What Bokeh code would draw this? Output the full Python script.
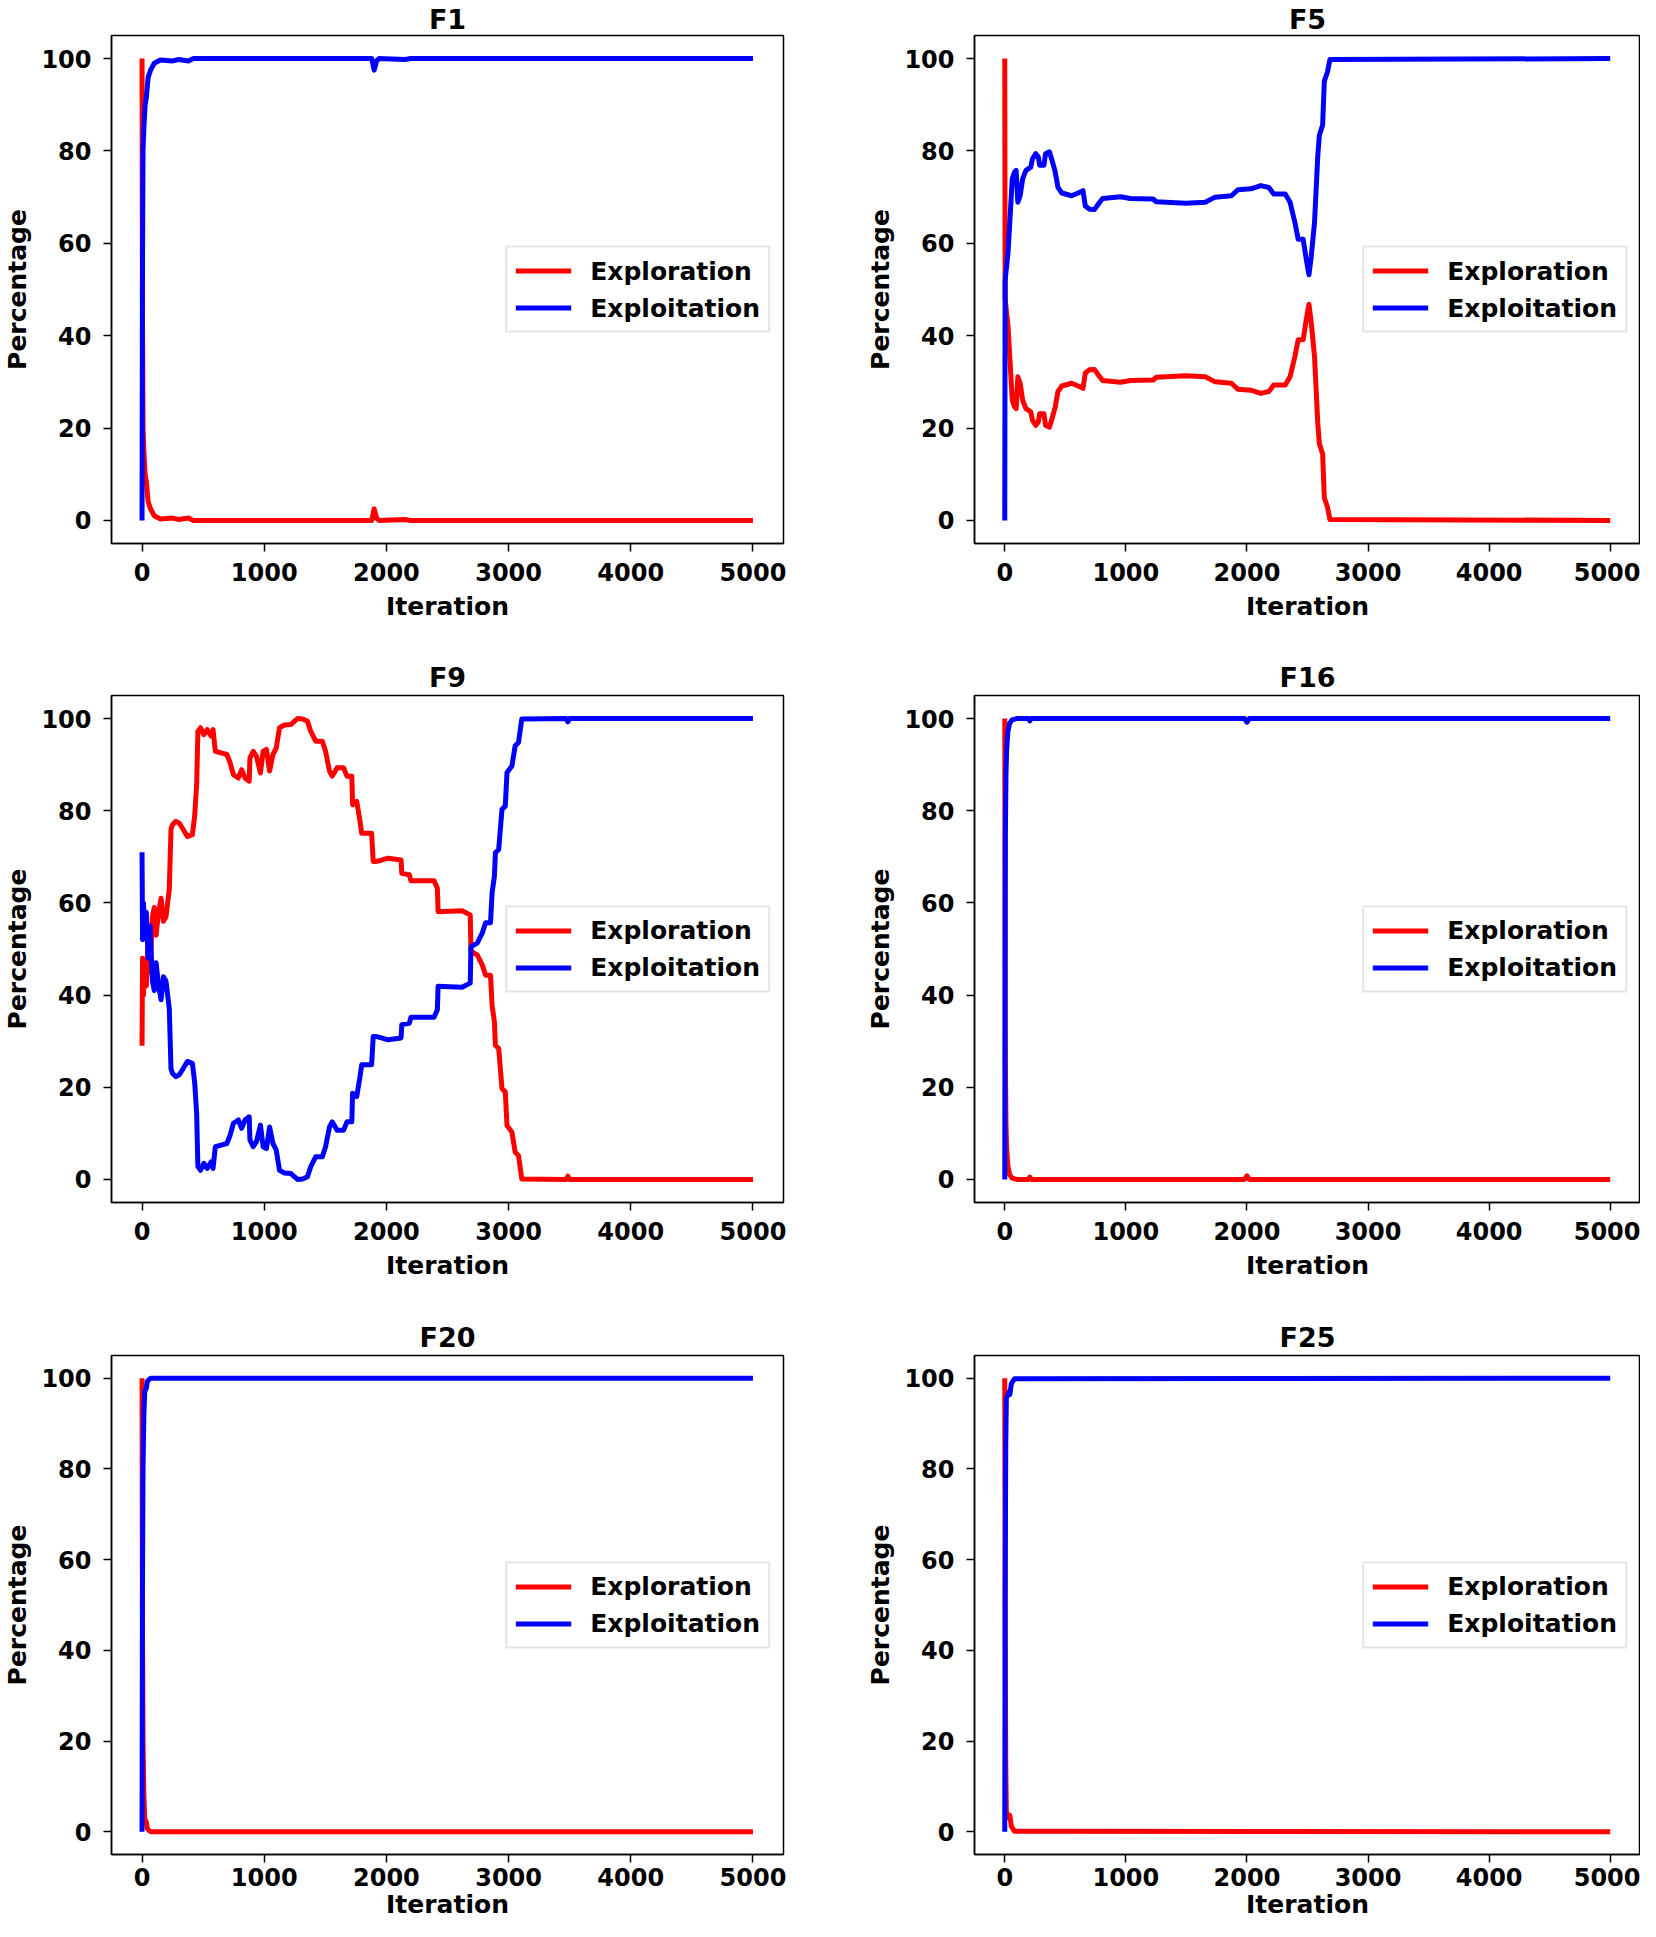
from bokeh.plotting import figure
from bokeh.layouts import column, row
from bokeh.models import Range1d, FixedTicker
from bokeh.embed import file_html
from bokeh.resources import INLINE

# ---------------- data ----------------
x_ticks = [0, 1000, 2000, 3000, 4000, 5000]
y_ticks = [0, 20, 40, 60, 80, 100]
series_names = ["Exploration", "Exploitation"]

f1_iter = [0, 3, 8, 15, 25, 35, 50, 70, 100, 150, 250, 300, 380, 420, 1880, 1900, 1920, 1940, 2150, 2200, 5000]
f1_explore = [100, 50, 20, 15, 10, 8.5, 4, 2.5, 1, 0.3, 0.5, 0.2, 0.5, 0, 0, 2.5, 0.5, 0, 0.2, 0, 0]
f1_exploit = [0, 50, 80, 85, 90, 91.5, 96, 97.5, 99, 99.7, 99.5, 99.8, 99.5, 100, 100, 97.5, 99.5, 100, 99.8, 100, 100]

f5_iter = [0, 3, 27, 46, 62, 81, 94, 108, 127, 148,
           175, 215, 229, 256, 277, 288, 323, 337, 369, 390,
           417, 439, 471, 552, 606, 646, 665, 700, 740, 773,
           808, 956, 1037, 1225, 1252, 1333, 1494, 1656, 1737, 1872,
           1925, 2033, 2114, 2181, 2221, 2316, 2356, 2396, 2423, 2464,
           2490, 2512, 2531, 2558, 2585, 2598, 2625, 2639, 2666, 2685,
           5000]
f5_exploit = [0, 52, 58, 66.7, 74, 75.4, 75.8, 68.9, 70.3, 74,
              75.8, 76.5, 78.3, 79.4, 78.7, 76.9, 76.9, 79.4, 79.8, 78,
              75.4, 72.1, 70.9, 70.3, 70.9, 71.4, 68.1, 67.4, 67.3, 68.5,
              69.7, 70.1, 69.7, 69.6, 69, 68.9, 68.7, 68.9, 70, 70.3,
              71.6, 71.8, 72.5, 72.1, 70.7, 70.7, 68.9, 64.5, 60.9, 60.9,
              56.5, 53.2, 57.2, 64.5, 79, 83.4, 85.6, 95.1, 97.2, 99.8,
              100]
f5_explore = [100, 48, 42, 33.3, 26, 24.6, 24.2, 31.1, 29.7, 26,
              24.2, 23.5, 21.7, 20.6, 21.3, 23.1, 23.1, 20.6, 20.2, 22,
              24.6, 27.9, 29.1, 29.7, 29.1, 28.6, 31.9, 32.6, 32.7, 31.5,
              30.3, 29.9, 30.3, 30.4, 31, 31.1, 31.3, 31.1, 30, 29.7,
              28.4, 28.2, 27.5, 27.9, 29.3, 29.3, 31.1, 35.5, 39.1, 39.1,
              43.5, 46.8, 42.8, 35.5, 21, 16.6, 14.4, 4.9, 2.8, 0.2,
              0]

f9_iter = [0, 4, 12, 22, 35, 50, 65, 85, 100, 115,
           135, 156, 175, 196, 223, 237, 250, 277, 304, 331,
           371, 412, 431, 447, 457, 479, 506, 533, 565, 581,
           600, 654, 694, 721, 748, 788, 815, 843, 877, 883,
           910, 937, 969, 991, 1018, 1044, 1071, 1098, 1125, 1166,
           1219, 1246, 1273, 1314, 1354, 1381, 1421, 1475, 1502, 1534,
           1556, 1596, 1650, 1677, 1717, 1723, 1757, 1784, 1798, 1879,
           1892, 1919, 1960, 2013, 2120, 2126, 2188, 2201, 2390, 2417,
           2423, 2619, 2686, 2692, 2744, 2785, 2812, 2852, 2865, 2884,
           2892, 2919, 2946, 2973, 2987, 3027, 3054, 3081, 3108, 3470,
           3485, 3500, 5000]
f9_explore = [29, 48, 40, 47, 42, 52, 45, 57, 59, 53,
              58, 61, 56, 57, 63, 76, 77, 77.7, 77.3, 76.2,
              74.4, 74.8, 79, 85.7, 97.2, 98, 96.5, 97.6, 96.2, 97.6,
              92.9, 92.5, 92.2, 90.4, 87.8, 87.1, 88.9, 87.1, 86.4, 91.4,
              92.9, 91.8, 88.2, 92.9, 93.3, 88.6, 92.2, 93.6, 98, 98.6,
              98.7, 99.4, 100, 99.9, 99.4, 97.2, 95.1, 95.1, 92.9, 88.6,
              87.5, 89.3, 89.3, 87.5, 87.5, 81.3, 82, 77.7, 75.1, 75.1,
              69, 69, 69.3, 69.7, 69.3, 66.4, 66.1, 64.8, 64.8, 63.2,
              58.1, 58.3, 57.4, 49.5, 48.7, 46.5, 44.3, 44.3, 37.8, 34.2,
              29.1, 28.4, 19.7, 19, 11.7, 10.3, 5.9, 5.2, 0.1, 0,
              0.7, 0, 0]
f9_exploit = [71, 52, 60, 53, 58, 48, 55, 43, 41, 47,
              42, 39, 44, 43, 37, 24, 23, 22.3, 22.7, 23.8,
              25.6, 25.2, 21, 14.3, 2.8, 2, 3.5, 2.4, 3.8, 2.4,
              7.1, 7.5, 7.8, 9.6, 12.2, 12.9, 11.1, 12.9, 13.6, 8.6,
              7.1, 8.2, 11.8, 7.1, 6.7, 11.4, 7.8, 6.4, 2, 1.4,
              1.3, 0.6, 0, 0.1, 0.6, 2.8, 4.9, 4.9, 7.1, 11.4,
              12.5, 10.7, 10.7, 12.5, 12.5, 18.7, 18, 22.3, 24.9, 24.9,
              31, 31, 30.7, 30.3, 30.7, 33.6, 33.9, 35.2, 35.2, 36.8,
              41.9, 41.7, 42.6, 50.5, 51.3, 53.5, 55.7, 55.7, 62.2, 65.8,
              70.9, 71.6, 80.3, 81, 88.3, 89.7, 94.1, 94.8, 99.9, 100,
              99.3, 100, 100]

f16_iter = [0, 2, 5, 10, 15, 25, 40, 60, 100, 195, 207, 220, 1980, 2000, 2020, 5000]
f16_explore = [100, 60, 25, 12, 7, 3, 1, 0.3, 0, 0, 0.5, 0, 0, 0.8, 0, 0]
f16_exploit = [0, 40, 75, 88, 93, 97, 99, 99.7, 100, 100, 99.5, 100, 100, 99.2, 100, 100]

f20_iter = [0, 3, 8, 15, 22, 35, 43, 60, 75, 5000]
f20_explore = [100, 50, 20, 8, 2.9, 2.2, 0.7, 0.2, 0, 0]
f20_exploit = [0, 50, 80, 92, 97.1, 97.8, 99.3, 99.8, 100, 100]

f25_iter = [0, 3, 8, 13, 25, 35, 42, 54, 81, 5000]
f25_explore = [100, 50, 15, 4.4, 3.8, 3, 3.6, 1.2, 0.1, 0]
f25_exploit = [0, 50, 85, 95.6, 96.2, 97, 96.4, 98.8, 99.9, 100]

# ---------------- styling ----------------
FONT = "DejaVu Sans"
RED = "#ff0000"
BLUE = "#0000ff"


def make_panel(title, it, explore, exploit, width, height, bl, br, bt, bb,
               title_standoff=2, x_label_standoff=11, x_axis_label_standoff=8):
    p = figure(width=width, height=height, output_backend="svg", toolbar_location=None,
               x_range=Range1d(-250, 5250), y_range=Range1d(-5, 105),
               min_border_left=bl, min_border_right=br,
               min_border_top=bt, min_border_bottom=bb,
               title=title)
    p.line(it, explore, color=RED, line_width=5, line_join="round",
           legend_label=series_names[0])
    p.line(it, exploit, color=BLUE, line_width=5, line_join="round",
           legend_label=series_names[1])

    p.title.align = "center"
    p.title.text_font = FONT
    p.title.text_font_style = "bold"
    p.title.text_font_size = "27px"
    p.title.text_color = "black"
    p.title.standoff = title_standoff

    p.xgrid.visible = False
    p.ygrid.visible = False
    p.outline_line_color = "black"
    p.outline_line_width = 1.5
    p.outline_line_alpha = 1.0

    p.xaxis.ticker = FixedTicker(ticks=x_ticks)
    p.yaxis.ticker = FixedTicker(ticks=y_ticks)
    p.xaxis.axis_label = "Iteration"
    p.yaxis.axis_label = "Percentage"
    for ax in (p.xaxis, p.yaxis):
        ax.axis_label_text_font = FONT
        ax.axis_label_text_font_style = "bold"
        ax.axis_label_text_font_size = "25px"
        ax.axis_label_text_color = "black"
        ax.major_label_text_font = FONT
        ax.major_label_text_font_style = "bold"
        ax.major_label_text_font_size = "24px"
        ax.major_label_text_color = "black"
        ax.axis_line_color = "black"
        ax.axis_line_width = 1.5
        ax.major_tick_line_color = "black"
        ax.major_tick_line_width = 1.5
        ax.major_tick_in = 0
        ax.major_tick_out = 8
        ax.minor_tick_line_color = None
    p.xaxis.major_label_standoff = x_label_standoff
    p.yaxis.major_label_standoff = 12
    p.xaxis.axis_label_standoff = x_axis_label_standoff
    p.yaxis.axis_label_standoff = 6

    lg = p.legend[0]
    lg.location = "center_right"
    lg.label_text_font = FONT
    lg.label_text_font_style = "bold"
    lg.label_text_font_size = "25px"
    lg.label_text_color = "black"
    lg.border_line_color = "#cccccc"
    lg.border_line_width = 2
    lg.background_fill_alpha = 0.8
    lg.glyph_width = 56
    lg.glyph_height = 30
    lg.label_height = 30
    lg.spacing = 7
    lg.padding = 8
    lg.margin = 13
    lg.label_standoff = 19
    return p


W1, W2 = 863, 777
H1, H2, H3 = 656, 659, 606

p1 = make_panel("F1", f1_iter, f1_explore, f1_exploit, W1, H1, 102, 80, 33, 113)
p2 = make_panel("F5", f5_iter, f5_explore, f5_exploit, W2, H1, 102, 0, 33, 113)
p3 = make_panel("F9", f9_iter, f9_explore, f9_exploit, W1, H2, 102, 80, 38, 113,
                title_standoff=6)
p4 = make_panel("F16", f16_iter, f16_explore, f16_exploit, W2, H2, 102, 0, 38, 113,
                title_standoff=6)
p5 = make_panel("F20", f20_iter, f20_explore, f20_exploit, W1, H3, 102, 80, 40, 50,
                title_standoff=6, x_label_standoff=5, x_axis_label_standoff=1)
p6 = make_panel("F25", f25_iter, f25_explore, f25_exploit, W2, H3, 102, 0, 40, 50,
                title_standoff=6, x_label_standoff=5, x_axis_label_standoff=1)

layout = column(row(p1, p2), row(p3, p4), row(p5, p6))

open("out.html", "w").write(file_html(layout, INLINE))
